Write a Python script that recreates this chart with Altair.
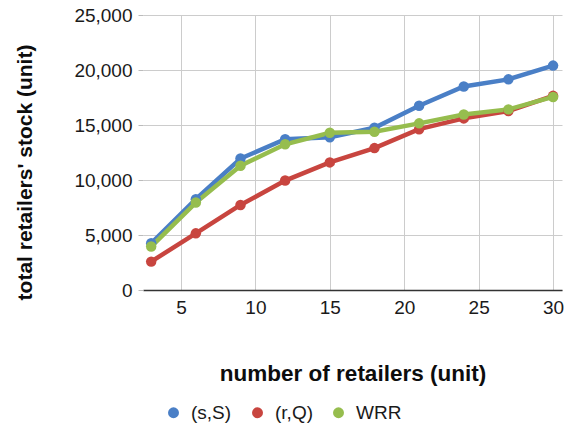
import altair as alt
import pandas as pd

# Number of retailers on the x axis
retailers = [3, 6, 9, 12, 15, 18, 21, 24, 27, 30]

# Total retailers' stock (units) for each replenishment policy
stock_sS = [4250, 8250, 11950, 13700, 13880, 14750, 16750, 18500, 19150, 20400]
stock_rQ = [2580, 5150, 7730, 9950, 11600, 12900, 14620, 15600, 16270, 17650]
stock_wrr = [3950, 7950, 11300, 13250, 14300, 14380, 15150, 15950, 16420, 17550]

policies = ["(s,S)", "(r,Q)", "WRR"]
colors = ["#4a7fc6", "#c8453f", "#96bd4e"]

rows = []
for name, values in zip(policies, [stock_sS, stock_rQ, stock_wrr]):
    for n, v in zip(retailers, values):
        rows.append({"retailers": n, "stock": v, "policy": name})
df = pd.DataFrame(rows)

FONT = "Liberation Sans"

x = alt.X(
    "retailers:Q",
    scale=alt.Scale(domain=[2.45, 30.6], nice=False, zero=False),
    axis=alt.Axis(
        title="number of retailers (unit)",
        values=[5, 10, 15, 20, 25, 30],
        ticks=False,
        labelPadding=8,
        labelFontSize=19,
        labelColor="#1a1a1a",
        labelFont=FONT,
        domainColor="#333333",
        domainWidth=1.5,
        gridColor="#cccccc",
        titleFontSize=22.5,
        titleFont=FONT,
        titleFontWeight="bold",
        titleColor="#0d0d0d",
        titleBaseline="middle",
        titleY=83,
    ),
)
y = alt.Y(
    "stock:Q",
    scale=alt.Scale(domain=[0, 25000], nice=False),
    axis=alt.Axis(
        title="total retailers' stock (unit)",
        values=[0, 5000, 10000, 15000, 20000, 25000],
        format=",d",
        domain=False,
        tickSize=5,
        tickColor="#bbbbbb",
        labelPadding=6,
        labelFontSize=19,
        labelColor="#1a1a1a",
        labelFont=FONT,
        gridColor="#cccccc",
        titleFontSize=21,
        titleFont=FONT,
        titleFontWeight="bold",
        titleColor="#0d0d0d",
        titleAngle=270,
        titleAlign="center",
        titleBaseline="middle",
        titleX=-118,
        titleY=157,
    ),
)
color = alt.Color(
    "policy:N",
    scale=alt.Scale(domain=policies, range=colors),
    legend=alt.Legend(
        title=None,
        orient="none",
        direction="horizontal",
        legendX=21,
        legendY=388,
        symbolType="circle",
        symbolSize=120,
        symbolStrokeWidth=0,
        labelFontSize=19,
        labelFont=FONT,
        labelColor="#1a1a1a",
        columnPadding=16,
        labelOffset=8,
    ),
)
order = alt.Order("policy_order:Q")

base = alt.Chart(df).transform_calculate(
    policy_order="indexof(['(r,Q)','(s,S)','WRR'], datum.policy)"
)

lines = base.mark_line(strokeWidth=4.5).encode(x=x, y=y, color=color, detail="policy:N")
points = base.mark_circle(size=110, opacity=1).encode(x=x, y=y, color=color, order=order)

chart = (
    alt.layer(lines, points)
    .properties(
        width=419,
        height=275,
        autosize=alt.AutoSizeParams(type="none"),
        padding={"left": 143, "top": 15, "right": 9, "bottom": 136},
        background="white",
    )
    .configure_view(stroke=None)
)

chart.save("out.html", embed_options={"renderer": "svg", "actions": False})
